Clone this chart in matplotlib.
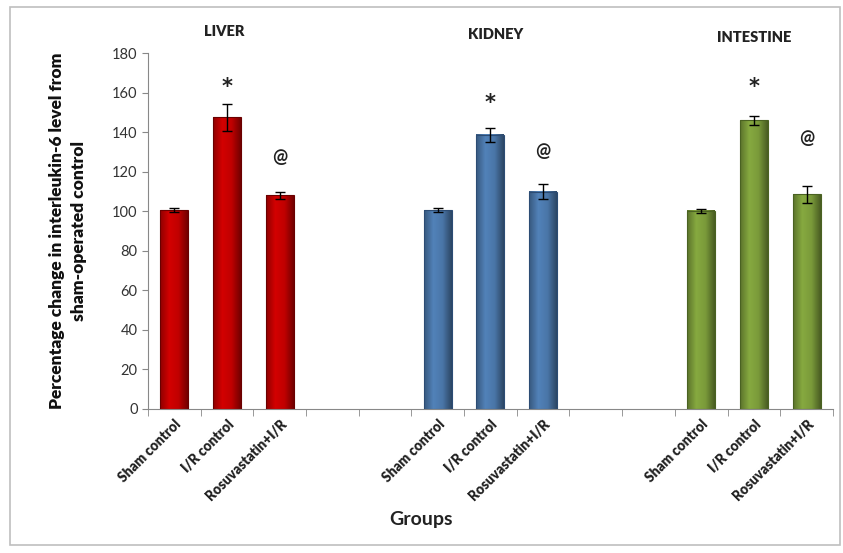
import numpy as np
import matplotlib
matplotlib.use('Agg')
import matplotlib.pyplot as plt
import matplotlib.patches as patches
from matplotlib.colors import LinearSegmentedColormap, to_rgb

plt.rcParams['font.family'] = ['Lato', 'DejaVu Sans']

# data
organs = ['LIVER', 'KIDNEY', 'INTESTINE']
groups = ['Sham control', 'I/R control', 'Rosuvastatin+I/R']
liver = [100.5, 147.5, 108.0]
liver_err = [1.0, 7.0, 1.8]
kidney = [100.5, 138.7, 109.8]
kidney_err = [1.0, 3.5, 3.8]
intestine = [100.3, 146.0, 108.5]
intestine_err = [1.0, 2.3, 4.5]
values = [liver, kidney, intestine]
errors = [liver_err, kidney_err, intestine_err]
marks = [['', '*', '@'], ['', '*', '@'], ['', '*', '@']]
mark_y = [[0, 165, 127], [0, 157, 130], [0, 165, 137]]

colors = ['#C00000', '#4A76A8', '#7A9A3A']
edges = ['#6A0000', '#2C4C74', '#4A6222']

fig = plt.figure(figsize=(8.43, 5.53), dpi=100)
ax = fig.add_axes([0.1756, 0.2604, 0.8124, 0.6436])

# border round the whole chart
fig.patches.append(patches.Rectangle((0.012, 0.015), 0.985, 0.972, transform=fig.transFigure,
                                     fill=False, edgecolor='#BFBFBF', linewidth=1.2))


def shade(c, f):
    r = np.array(to_rgb(c))
    return tuple(np.clip(r * f, 0, 1))


positions = []
labels = []
for i, organ in enumerate(organs):
    x = np.arange(3) + 5 * i
    bars = ax.bar(x, values[i], width=0.53, color=colors[i], edgecolor=edges[i], linewidth=0.8,
                  yerr=errors[i], capsize=3.5,
                  error_kw=dict(ecolor='black', elinewidth=1, capthick=1, zorder=4))
    # fake 3-d shading like the spreadsheet bars
    cmap = LinearSegmentedColormap.from_list('b%d' % i, [shade(colors[i], 0.75), shade(colors[i], 1.1),
                                                         colors[i], shade(colors[i], 0.6)])
    grad = np.linspace(0, 1, 64).reshape(1, -1)
    for b in bars:
        ax.imshow(grad, cmap=cmap, aspect='auto', zorder=2,
                  extent=(b.get_x(), b.get_x() + b.get_width(), 0, b.get_height()))
        b.set_zorder(3)
        b.set_facecolor('none')
    for j in range(3):
        if marks[i][j] == '*':
            ax.text(x[j], mark_y[i][j] - 2, '*', ha='center', va='center', family='DejaVu Sans',
                    fontsize=15, fontweight='bold', color='#222222')
        elif marks[i][j]:
            ax.text(x[j], mark_y[i][j], marks[i][j], ha='center', va='center',
                    fontsize=13, fontweight='bold', color='#222222')
    ax.text(x[1] - 0.05 * (i == 0) + 0.1 * (i == 1), 191 - 1.5 * i, organ, ha='center', va='center',
            fontsize=10.5, fontweight='heavy', color='#222222', clip_on=False)
    positions += list(x)
    labels += groups

ax.set_xlim(-0.5, 12.5)
ax.set_ylim(0, 180)
ax.set_yticks(np.arange(0, 181, 20))
ax.tick_params(axis='y', labelsize=10.5, colors='#333333', length=4, color='#888888', direction='out')
ax.set_xticks(positions)
ax.set_xticklabels(labels, rotation=45, ha='right', rotation_mode='anchor',
                   fontsize=9.8, fontweight='heavy', color='#222222')
ax.tick_params(axis='x', length=0, pad=6)
ax.set_xticks(np.arange(-0.5, 13, 1), minor=True)
ax.tick_params(axis='x', which='minor', length=5, color='#888888', direction='out')

for s in ['top', 'right']:
    ax.spines[s].set_visible(False)
for s in ['left', 'bottom']:
    ax.spines[s].set_color('#888888')

ax.set_ylabel('Percentage change in interleukin-6 level from\nsham-operated control',
              fontsize=12.5, fontweight='heavy', color='#111111', labelpad=18, linespacing=1.45)
fig.text(0.5, 0.06, 'Groups', ha='center', va='center', fontsize=14, fontweight='bold', color='#222222')

fig.savefig('out.png', dpi=100)
